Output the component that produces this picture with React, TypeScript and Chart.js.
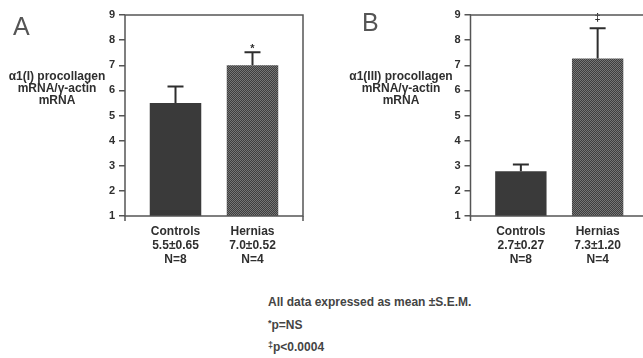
import React, { useEffect, useRef } from 'react';
import { Chart, registerables } from 'chart.js';

Chart.register(...registerables);

const categories = ['Controls', 'Hernias'];
const nLabels = ['N=8', 'N=4'];

const meansA = [5.5, 7.0];
const semA = [0.65, 0.52];
const statLabelsA = ['5.5±0.65', '7.0±0.52'];
const markersA = ['', '*'];
const yTitleA = ['α1(I) procollagen', 'mRNA/γ-actin', 'mRNA'];

const meansB = [2.78, 7.27];
const semB = [0.27, 1.2];
const statLabelsB = ['2.7±0.27', '7.3±1.20'];
const markersB = ['', '‡'];
const yTitleB = ['α1(III) procollagen', 'mRNA/γ-actin', 'mRNA'];

const yMin = 1;
const yMax = 9;

const footnoteMain = 'All data expressed as mean ±S.E.M.';
const footnoteStar = ['*', 'p=NS'];
const footnoteDagger = ['‡', 'p<0.0004'];

const FONT = '"Liberation Sans", Arial, Helvetica, sans-serif';
const TEXT = '#2f2f2f';
const LINE = '#555';

function makePattern(a: string, b: string): CanvasPattern | string {
  const c = document.createElement('canvas');
  c.width = 2;
  c.height = 2;
  const g = c.getContext('2d');
  if (!g) return a;
  g.fillStyle = a;
  g.fillRect(0, 0, 2, 2);
  g.fillStyle = b;
  g.fillRect(0, 0, 1, 1);
  g.fillRect(1, 1, 1, 1);
  const ctx = document.createElement('canvas').getContext('2d');
  return (ctx && ctx.createPattern(c, 'repeat')) || a;
}

type PanelProps = {
  left: number;
  means: number[];
  sems: number[];
  stats: string[];
  markers: string[];
  title: string[];
  letter: string;
  yAxisWidth: number;
  rightPad: number;
  titleX: number;
  letterX: number;
  letterY: number;
  markerGap: number;
};

function Panel(p: PanelProps) {
  const ref = useRef<HTMLCanvasElement>(null);
  useEffect(() => {
    if (!ref.current) return;
    const hern = makePattern('#3e3e3e', '#767676');
    const plugin = {
      id: 'panelDeco',
      afterDatasetsDraw(chart: any) {
        const ctx = chart.ctx as CanvasRenderingContext2D;
        const meta = chart.getDatasetMeta(0);
        const ys = chart.scales.y;
        ctx.save();
        ctx.strokeStyle = '#2e2e2e';
        ctx.lineWidth = 2;
        meta.data.forEach((el: any, i: number) => {
          const top = ys.getPixelForValue(p.means[i] + p.sems[i]);
          ctx.beginPath();
          ctx.moveTo(el.x, el.y);
          ctx.lineTo(el.x, top);
          ctx.moveTo(el.x - 8, top);
          ctx.lineTo(el.x + 8, top);
          ctx.stroke();
          if (p.markers[i]) {
            ctx.fillStyle = TEXT;
            ctx.font = `bold 11px ${FONT}`;
            ctx.textAlign = 'center';
            ctx.textBaseline = 'middle';
            ctx.fillText(p.markers[i], el.x, top - p.markerGap);
          }
        });
        ctx.restore();
      },
      afterDraw(chart: any) {
        const ctx = chart.ctx as CanvasRenderingContext2D;
        const a = chart.chartArea;
        ctx.save();
        ctx.strokeStyle = LINE;
        ctx.lineWidth = 1.5;
        ctx.strokeRect(a.left, a.top, a.right - a.left, a.bottom - a.top);
        ctx.beginPath();
        ctx.moveTo(a.left, a.bottom);
        ctx.lineTo(a.left, a.bottom + 5);
        ctx.moveTo(a.right, a.bottom);
        ctx.lineTo(a.right, a.bottom + 5);
        ctx.stroke();
        ctx.fillStyle = TEXT;
        ctx.font = `bold 12px ${FONT}`;
        ctx.textAlign = 'center';
        ctx.textBaseline = 'middle';
        p.title.forEach((t, i) => ctx.fillText(t, p.titleX, 77 + i * 12));
        ctx.fillStyle = '#555';
        ctx.font = `25px ${FONT}`;
        ctx.textAlign = 'left';
        ctx.textBaseline = 'alphabetic';
        ctx.fillText(p.letter, p.letterX, p.letterY);
        ctx.restore();
      },
    };
    const chart = new Chart(ref.current, {
      type: 'bar',
      data: {
        datasets: [
          {
            data: p.means.map((v, i) => ({ x: i + 1, y: v })),
            backgroundColor: ['#3a3a3a', hern] as any,
            borderWidth: 0,
            barPercentage: 0.669,
            categoryPercentage: 1,
          },
        ],
      },
      options: {
        responsive: false,
        animation: false,
        layout: { padding: { top: 15, right: p.rightPad, left: 0, bottom: 0 } },
        plugins: { legend: { display: false }, tooltip: { enabled: false } },
        scales: {
          x: {
            type: 'linear',
            offset: false,
            min: 1 - 0.656,
            max: 2 + 0.656,
            afterBuildTicks(scale: any) {
              scale.ticks = categories.map((_, i) => ({ value: i + 1 }));
            },
            afterFit(scale: any) {
              scale.height = 64;
            },
            grid: { display: false, drawTicks: false, offset: false },
            border: { display: false },
            ticks: {
              autoSkip: false,
              maxRotation: 0,
              padding: 9,
              color: TEXT,
              font: { family: FONT, size: 12, weight: 'bold', lineHeight: 14 / 12 },
              callback: (_v: any, i: number) => [categories[i], p.stats[i], nLabels[i]],
            },
          },
          y: {
            min: yMin,
            max: yMax,
            afterFit(scale: any) {
              scale.width = p.yAxisWidth;
            },
            grid: { drawOnChartArea: false, drawTicks: true, tickLength: 6, color: LINE, lineWidth: 1.5 },
            border: { display: false },
            ticks: {
              stepSize: 1,
              padding: 4,
              color: TEXT,
              font: { family: FONT, size: 11, weight: 'bold' },
            },
          },
        },
      } as any,
      plugins: [plugin],
    });
    return () => chart.destroy();
  }, []);
  return (
    <canvas
      ref={ref}
      width={330}
      height={280}
      style={{ position: 'absolute', left: p.left, top: 0, width: 330, height: 280 }}
    />
  );
}

const noteStyle: React.CSSProperties = {
  position: 'absolute',
  left: 268,
  font: `bold 12px ${FONT}`,
  lineHeight: '14px',
  color: '#444',
  whiteSpace: 'nowrap',
};
const supStyle: React.CSSProperties = { fontSize: 9, verticalAlign: 3 };

export default function App() {
  return (
    <div
      style={{
        position: 'fixed',
        left: 0,
        top: 0,
        width: 643,
        height: 358,
        overflow: 'hidden',
        background: '#fff',
      }}
    >
      <Panel
        left={0}
        means={meansA}
        sems={semA}
        stats={statLabelsA}
        markers={markersA}
        title={yTitleA}
        letter="A"
        yAxisWidth={125}
        rightPad={27}
        titleX={57}
        letterX={13}
        letterY={35}
        markerGap={3}
      />
      <Panel
        left={330}
        means={meansB}
        sems={semB}
        stats={statLabelsB}
        markers={markersB}
        title={yTitleB}
        letter="B"
        yAxisWidth={140.5}
        rightPad={12}
        titleX={71}
        letterX={32}
        letterY={31}
        markerGap={10}
      />
      <div style={{ ...noteStyle, top: 295 }}>{footnoteMain}</div>
      <div style={{ ...noteStyle, top: 316 }}>
        <span style={supStyle}>{footnoteStar[0]}</span>
        {footnoteStar[1]}
      </div>
      <div style={{ ...noteStyle, top: 338 }}>
        <span style={supStyle}>{footnoteDagger[0]}</span>
        {footnoteDagger[1]}
      </div>
    </div>
  );
}
